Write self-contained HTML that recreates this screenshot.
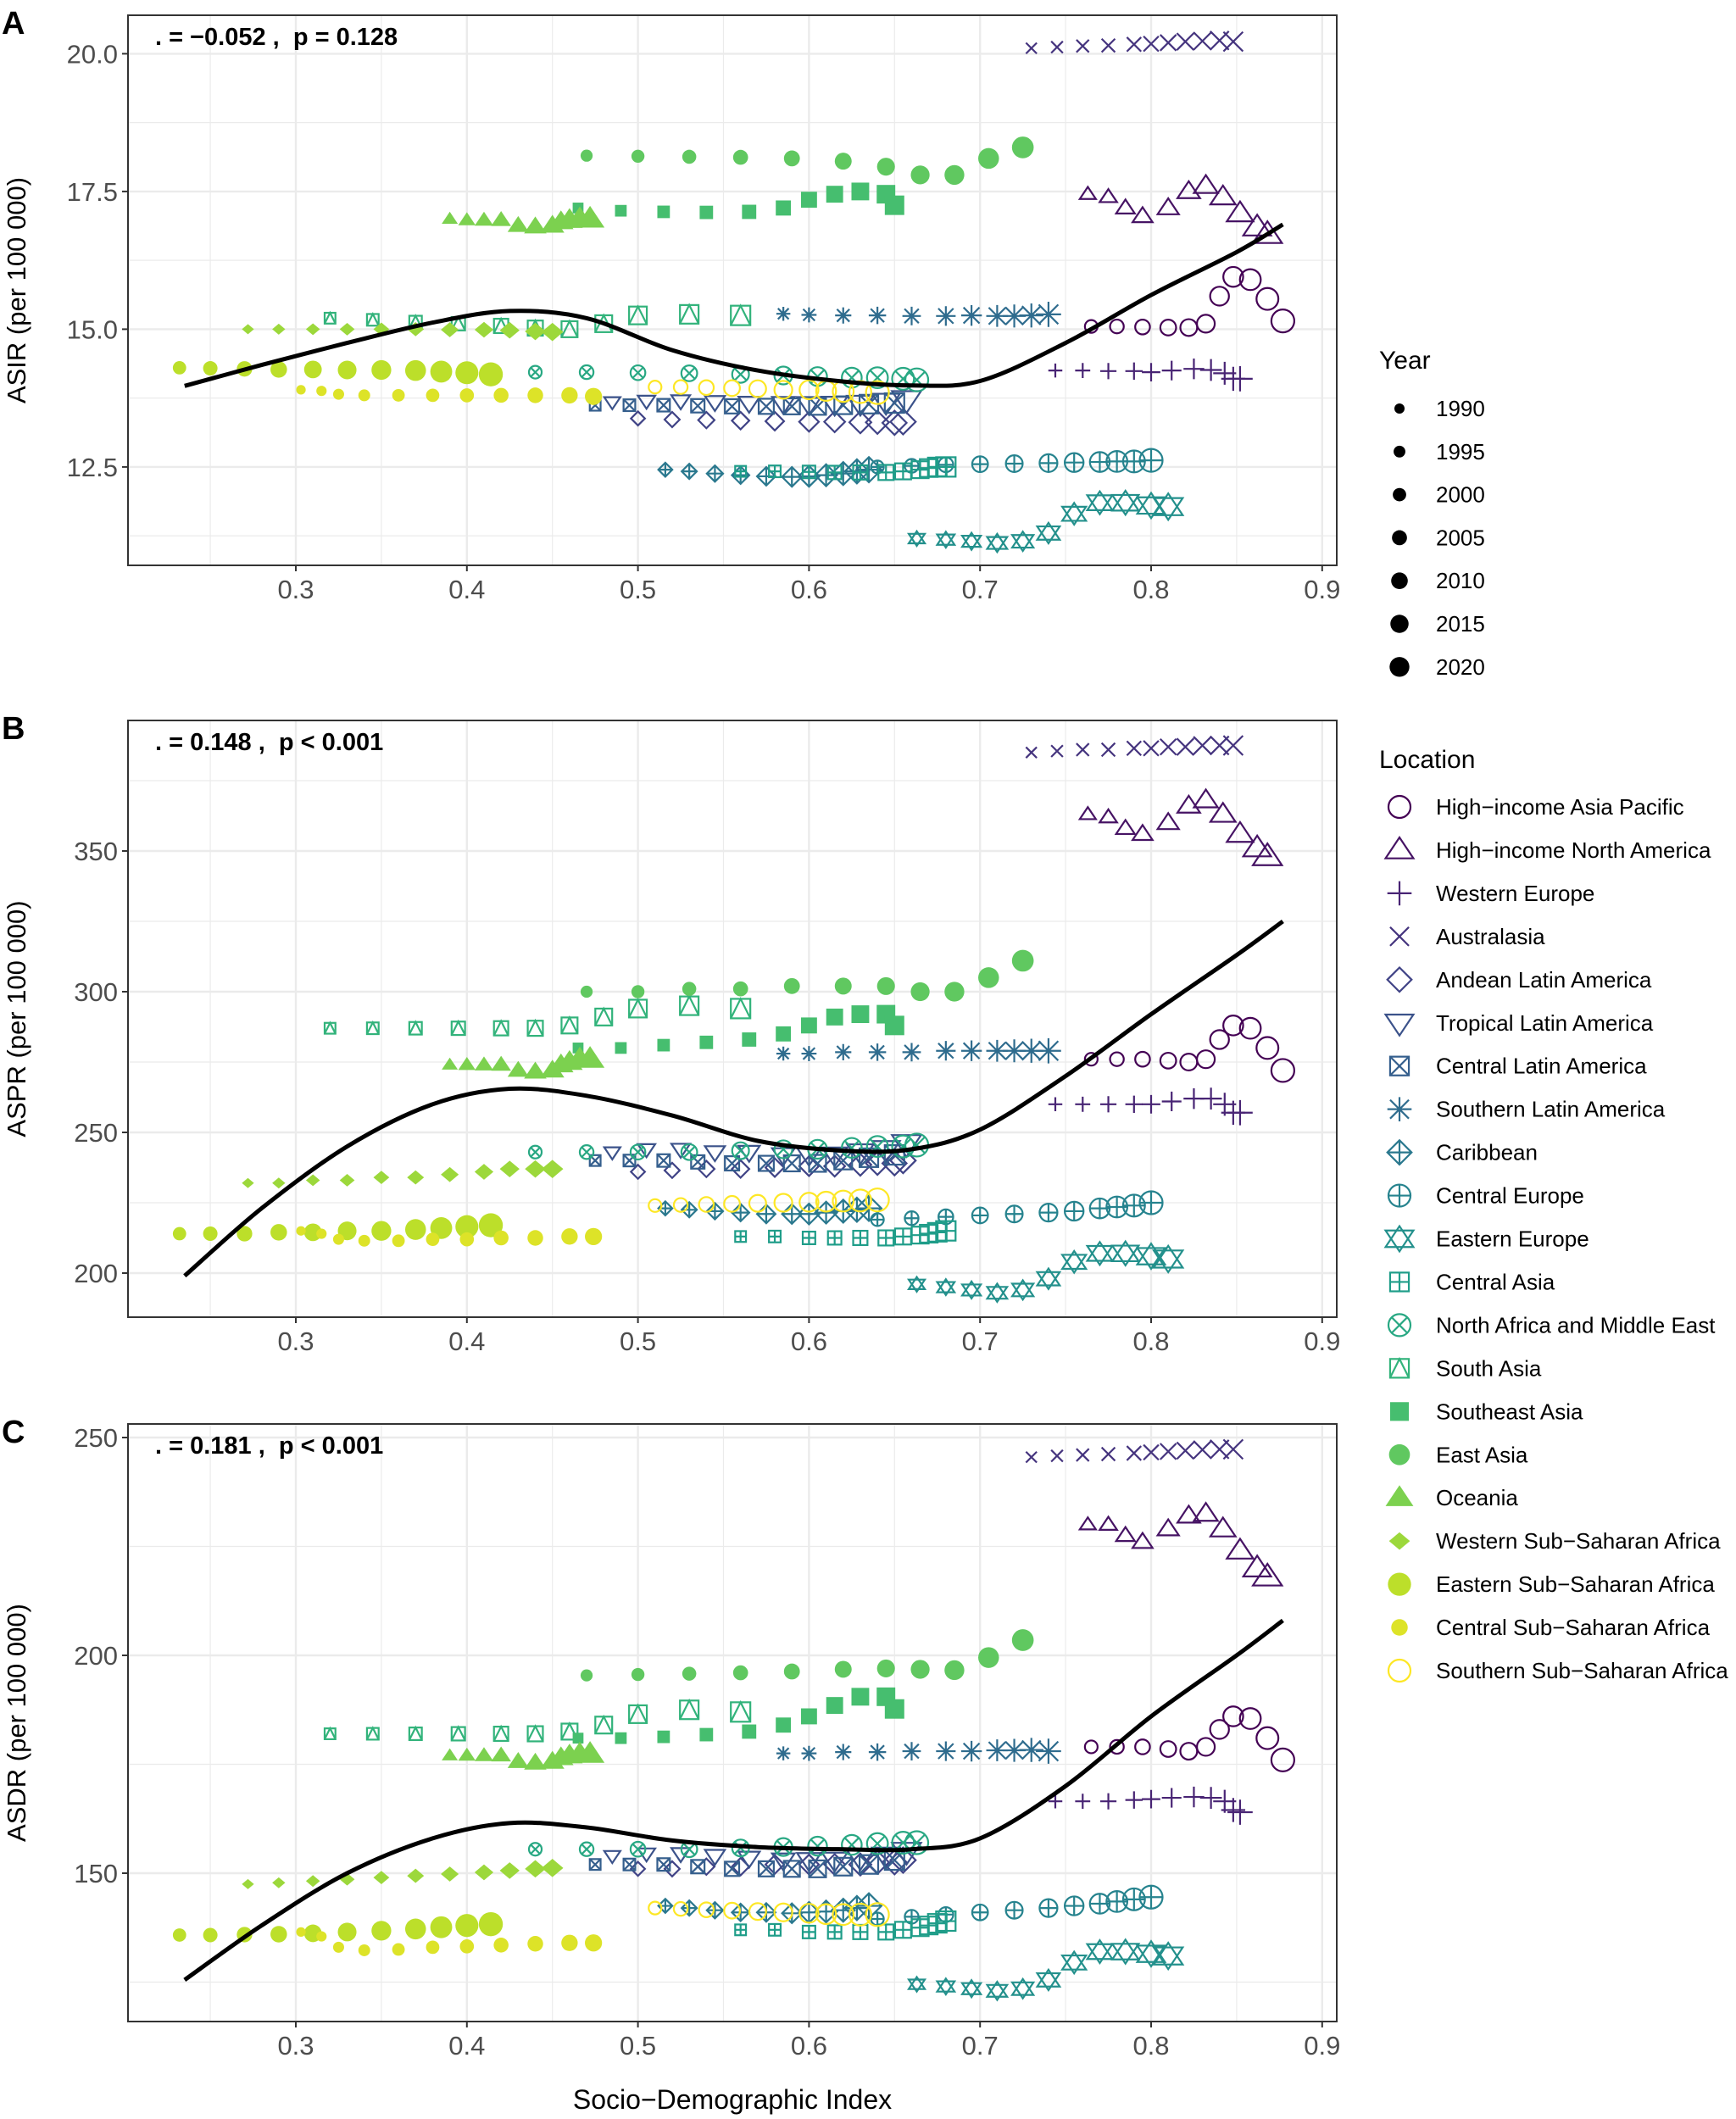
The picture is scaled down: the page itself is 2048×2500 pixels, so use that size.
<!DOCTYPE html>
<html><head><meta charset="utf-8"><style>
html,body{margin:0;padding:0;background:#fff;}
svg{display:block;font-family:"Liberation Sans",Arial,sans-serif;}
.pre{white-space:pre;}
</style></head><body>
<svg id="chart" width="2048" height="2500" viewBox="0 0 2048 2500" xmlns="http://www.w3.org/2000/svg">
<g id="panels"></g>
<g id="legend"></g>
<text x="864" y="2488" font-size="32" text-anchor="middle" fill="#000">Socio−Demographic Index</text>
</svg>
<script>
const regions = ["High−income Asia Pacific","High−income North America","Western Europe","Australasia","Andean Latin America","Tropical Latin America","Central Latin America","Southern Latin America","Caribbean","Central Europe","Eastern Europe","Central Asia","North Africa and Middle East","South Asia","Southeast Asia","East Asia","Oceania","Western Sub−Saharan Africa","Eastern Sub−Saharan Africa","Central Sub−Saharan Africa","Southern Sub−Saharan Africa"];
const shapes = ["circle","triangle","plus","cross","diamond","invtri","squarex","asterisk","diamondplus","circleplus","star","squareplus","circlex","squaretri","fsquare","fcircle","ftriangle","fdiamond","fcircleL","fcircleS","circle"];
const years = [1990,1993,1996,1999,2002,2005,2008,2011,2014,2017,2020];
const legendYears = [1990,1995,2000,2005,2010,2015,2020];

const sdi_hiap=[0.765,0.78,0.795,0.81,0.822,0.832,0.84,0.848,0.858,0.868,0.877];
const sdi_hina=[0.763,0.775,0.785,0.795,0.81,0.822,0.832,0.842,0.852,0.862,0.868];
const sdi_we=[0.744,0.76,0.775,0.79,0.8,0.812,0.825,0.835,0.843,0.848,0.852];
const sdi_aus=[0.73,0.745,0.76,0.775,0.79,0.8,0.81,0.82,0.83,0.84,0.848];
const sdi_and=[0.5,0.52,0.54,0.56,0.58,0.6,0.615,0.63,0.64,0.65,0.655];
const sdi_tla=[0.485,0.505,0.525,0.545,0.565,0.585,0.6,0.615,0.63,0.645,0.657];
const sdi_cla=[0.475,0.495,0.515,0.535,0.555,0.575,0.59,0.605,0.62,0.635,0.65];
const sdi_sla=[0.585,0.6,0.62,0.64,0.66,0.68,0.695,0.71,0.72,0.73,0.74];
const sdi_car=[0.516,0.53,0.545,0.56,0.575,0.59,0.6,0.61,0.62,0.628,0.635];
const sdi_ceu=[0.64,0.66,0.68,0.7,0.72,0.74,0.755,0.77,0.78,0.79,0.8];
const sdi_eeu=[0.663,0.68,0.695,0.71,0.725,0.74,0.755,0.77,0.785,0.8,0.81];
const sdi_cas=[0.56,0.58,0.6,0.615,0.63,0.645,0.655,0.665,0.67,0.675,0.68];
const sdi_name=[0.44,0.47,0.5,0.53,0.56,0.585,0.605,0.625,0.64,0.655,0.663];
const sdi_sas=[0.32,0.345,0.37,0.395,0.42,0.44,0.46,0.48,0.5,0.53,0.56];
const sdi_sea=[0.465,0.49,0.515,0.54,0.565,0.585,0.6,0.615,0.63,0.645,0.65];
const sdi_eas=[0.47,0.5,0.53,0.56,0.59,0.62,0.645,0.665,0.685,0.705,0.725];
const sdi_oce=[0.39,0.4,0.41,0.42,0.43,0.44,0.45,0.455,0.46,0.466,0.472];
const sdi_wssa=[0.272,0.29,0.31,0.33,0.35,0.37,0.39,0.41,0.425,0.44,0.45];
const sdi_essa=[0.232,0.25,0.27,0.29,0.31,0.33,0.35,0.37,0.385,0.4,0.414];
const sdi_cssa=[0.303,0.315,0.325,0.34,0.36,0.38,0.4,0.42,0.44,0.46,0.474];
const sdi_sssa=[0.51,0.525,0.54,0.555,0.57,0.585,0.6,0.61,0.62,0.63,0.64];

const asir_hiap=[15.05,15.05,15.04,15.03,15.03,15.1,15.6,15.95,15.9,15.55,15.15];
const asir_hina=[17.45,17.4,17.2,17.05,17.2,17.5,17.6,17.4,17.1,16.85,16.72];
const asir_we=[14.25,14.25,14.24,14.24,14.22,14.25,14.28,14.26,14.2,14.1,14.1];
const asir_aus=[20.1,20.12,20.14,20.15,20.17,20.18,20.2,20.22,20.23,20.24,20.22];
const asir_and=[13.38,13.36,13.35,13.34,13.33,13.32,13.32,13.31,13.31,13.3,13.32];
const asir_tla=[13.68,13.7,13.7,13.68,13.66,13.65,13.64,13.64,13.65,13.68,13.72];
const asir_cla=[13.62,13.62,13.62,13.61,13.6,13.6,13.6,13.6,13.62,13.64,13.66];
const asir_sla=[15.28,15.26,15.25,15.25,15.24,15.24,15.25,15.24,15.24,15.25,15.27];
const asir_car=[12.45,12.42,12.38,12.35,12.33,12.32,12.33,12.35,12.38,12.42,12.45];
const asir_ceu=[12.5,12.52,12.54,12.55,12.56,12.57,12.58,12.59,12.6,12.6,12.62];
const asir_eeu=[11.2,11.18,11.15,11.12,11.15,11.3,11.65,11.85,11.85,11.8,11.78];
const asir_cas=[12.42,12.42,12.41,12.4,12.4,12.4,12.42,12.45,12.48,12.5,12.5];
const asir_name=[14.22,14.22,14.21,14.2,14.18,14.16,14.14,14.12,14.12,14.1,14.08];
const asir_sas=[15.2,15.17,15.13,15.1,15.06,15.02,15.0,15.1,15.25,15.27,15.25];
const asir_sea=[17.2,17.15,17.13,17.12,17.13,17.2,17.35,17.45,17.5,17.45,17.25];
const asir_eas=[18.15,18.14,18.13,18.12,18.1,18.05,17.95,17.8,17.8,18.1,18.3];
const asir_oce=[17.0,16.98,16.98,16.98,16.88,16.86,16.88,16.95,16.98,17.0,17.0];
const asir_wssa=[15.0,15.0,15.0,15.0,15.0,15.0,14.99,14.99,14.98,14.96,14.95];
const asir_essa=[14.3,14.29,14.28,14.27,14.27,14.26,14.26,14.25,14.23,14.21,14.18];
const asir_cssa=[13.9,13.88,13.82,13.8,13.8,13.8,13.8,13.8,13.8,13.8,13.78];
const asir_sssa=[13.95,13.95,13.94,13.93,13.92,13.9,13.9,13.88,13.87,13.86,13.85];

const aspr_hiap=[276,276,276,275.5,275,276,283,288,287,280,272];
const aspr_hina=[363,362,358,356,360,366,368,363,356,351,348];
const aspr_we=[260,260,260,260,260,261,262,262,260,257,257];
const aspr_aus=[385,385.5,386,386,386.5,386.5,387,387,387.5,387.5,387.5];
const aspr_and=[236,236.5,237,237,237.5,238,238,238.5,239,239,240];
const aspr_tla=[243,244,244,243,243,242,242,242,243,244,246];
const aspr_cla=[240,240,240,239.5,239,239,239,239,240,241,242];
const aspr_sla=[278,278,278.5,278.5,278.5,279,279,279,279,279,279];
const aspr_car=[223,222.5,222,221.5,221,221,221,221.5,222,222.5,223];
const aspr_ceu=[219,219.5,220,220.5,221,221.5,222,223,223.5,224,225];
const aspr_eeu=[196,195,194,193,194,198,204,207,207,206,205];
const aspr_cas=[213,213,212.5,212.5,212.5,212.5,213,213.5,214,214.5,215];
const aspr_name=[243,243,243,243,243.5,244,244,244.5,245,245,245.5];
const aspr_sas=[287,287,287,287,287,287,288,291,294,295,294];
const aspr_sea=[280,280,281,282,283,285,288,291,292,292,288];
const aspr_eas=[300,300,301,301,302,302,302,300,300,305,311];
const aspr_oce=[274,274,274,274,272,271.5,272,274,275,276,276];
const aspr_wssa=[232,232,233,233,234,234,235,236,237,237,237];
const aspr_essa=[214,214,214,214.5,214.5,215,215,215.5,216,216.5,217];
const aspr_cssa=[215,214,212,211.5,211.5,212,212,212.5,212.5,213,213];
const aspr_sssa=[224,224.2,224.4,224.6,224.8,225,225.2,225.4,225.6,225.8,226];

const asdr_hiap=[179,179,179,178.5,178,179,183,186,185.5,181,176];
const asdr_hina=[230,230,227.5,226,229,232,232.5,229,224,220,218];
const asdr_we=[166.5,166.5,166.5,166.8,167,167.3,167.5,167.3,166.5,164.5,164];
const asdr_aus=[245.5,245.8,246,246.2,246.4,246.6,246.8,247,247.2,247.3,247.3];
const asdr_and=[151,151,151.5,151.5,152,152,152,152,152.5,152.5,153];
const asdr_tla=[154,154.5,154.5,154,153.5,153,153,153,153.5,154,155];
const asdr_cla=[152,152,152,151.5,151,151,151,151,151.5,152,153];
const asdr_sla=[177.5,177.5,177.8,177.8,178,178,178,178.2,178.2,178.3,178];
const asdr_car=[142.5,142,141.5,141,141,140.8,141,141.2,141.5,142,142.5];
const asdr_ceu=[139.5,140,140.5,141,141.5,142,142.5,143,143.5,144,144.5];
const asdr_eeu=[124.5,124,123.5,123,123.5,125.5,129.5,132,132,131.5,131];
const asdr_cas=[137,137,136.5,136.5,136.5,136.5,137,137.5,138,138.5,139];
const asdr_name=[155.5,155.5,155.5,155.5,155.8,156,156.2,156.5,156.8,157,157];
const asdr_sas=[182,182,182,182,182,182,182.5,184,186.5,187.5,187];
const asdr_sea=[181,181,181.3,181.8,182.5,184,186,188.5,190.5,190.5,187.7];
const asdr_eas=[195.4,195.6,195.8,196,196.3,196.8,197,196.8,196.6,199.5,203.5];
const asdr_oce=[177,177,177,177,175.6,175.3,175.6,176.5,177,177.3,177.3];
const asdr_wssa=[147.5,147.8,148.2,148.6,149,149.4,149.8,150.2,150.6,151,151.2];
const asdr_essa=[135.8,135.8,135.9,136,136.2,136.5,136.8,137.2,137.6,138,138.3];
const asdr_cssa=[136.5,135.5,133,132.3,132.5,133,133.2,133.5,133.8,134,134];
const asdr_sssa=[142,141.8,141.6,141.4,141.2,141,140.8,140.6,140.5,140.5,140.5];

const smooth_x=[0.235,0.28,0.33,0.38,0.425,0.47,0.52,0.57,0.62,0.66,0.7,0.75,0.8,0.85,0.877];
const smooth_asir=[13.97,14.35,14.75,15.12,15.33,15.2,14.62,14.25,14.05,13.98,14.06,14.75,15.62,16.4,16.9];
const smooth_aspr=[199,223,245,260,265.5,263,256,247,243.5,244,251,270,292,313,325];
const smooth_asdr=[125.5,138,150,158,161.5,160.5,157.5,156,155.5,155.5,158,170,186,200,208];

const xTicks=[0.3,0.4,0.5,0.6,0.7,0.8,0.9];
const ticksA=[12.5,15.0,17.5,20.0];
const ticksB=[200,250,300,350];
const ticksC=[150,200,250];
const statA=". = −0.052 ,  p = 0.128";
const statB=". = 0.148 ,  p < 0.001";
const statC=". = 0.181 ,  p < 0.001";

const SDI=[sdi_hiap,sdi_hina,sdi_we,sdi_aus,sdi_and,sdi_tla,sdi_cla,sdi_sla,sdi_car,sdi_ceu,sdi_eeu,sdi_cas,sdi_name,sdi_sas,sdi_sea,sdi_eas,sdi_oce,sdi_wssa,sdi_essa,sdi_cssa,sdi_sssa];
const VA=[asir_hiap,asir_hina,asir_we,asir_aus,asir_and,asir_tla,asir_cla,asir_sla,asir_car,asir_ceu,asir_eeu,asir_cas,asir_name,asir_sas,asir_sea,asir_eas,asir_oce,asir_wssa,asir_essa,asir_cssa,asir_sssa];
const VB=[aspr_hiap,aspr_hina,aspr_we,aspr_aus,aspr_and,aspr_tla,aspr_cla,aspr_sla,aspr_car,aspr_ceu,aspr_eeu,aspr_cas,aspr_name,aspr_sas,aspr_sea,aspr_eas,aspr_oce,aspr_wssa,aspr_essa,aspr_cssa,aspr_sssa];
const VC=[asdr_hiap,asdr_hina,asdr_we,asdr_aus,asdr_and,asdr_tla,asdr_cla,asdr_sla,asdr_car,asdr_ceu,asdr_eeu,asdr_cas,asdr_name,asdr_sas,asdr_sea,asdr_eas,asdr_oce,asdr_wssa,asdr_essa,asdr_cssa,asdr_sssa];

const NS="http://www.w3.org/2000/svg";
function mk(tag,attrs,parent){const e=document.createElementNS(NS,tag);for(const k in attrs)e.setAttribute(k,attrs[k]);if(parent)parent.appendChild(e);return e;}
const vir=[[68,1,84],[72,40,120],[62,74,137],[49,104,142],[38,130,142],[31,158,137],[53,183,121],[110,206,88],[181,222,43],[253,231,37]];
function viridis(t){const p=t*(vir.length-1);const i=Math.min(Math.floor(p),vir.length-2);const f=p-i;const c=vir[i].map((v,k)=>Math.round(v+(vir[i+1][k]-v)*f));return `rgb(${c[0]},${c[1]},${c[2]})`;}
const colors=regions.map((_,i)=>viridis(i/20));

const xScale=v=>349+(v-0.3)*2018;
const panels=[
 {id:"a",letter:"A",top:18,bottom:667,y:v=>63.4+(20-v)*65.0,ticks:ticksA,minor:[11.25,13.75,16.25,18.75],vals:VA,smooth:smooth_asir,stat:statA,title:"ASIR (per 100 000)",fmt:v=>v.toFixed(1)},
 {id:"b",letter:"B",top:850,bottom:1554,y:v=>1004+(350-v)*3.32,ticks:ticksB,minor:[225,275,325,375],vals:VB,smooth:smooth_aspr,stat:statB,title:"ASPR (per 100 000)",fmt:v=>String(v)},
 {id:"c",letter:"C",top:1680,bottom:2385,y:v=>1696+(250-v)*5.14,ticks:ticksC,minor:[125,175,225],vals:VC,smooth:smooth_asdr,stat:statC,title:"ASDR (per 100 000)",fmt:v=>String(v)}
];
const L=151,R=1577;

function marker(g,shape,cx,cy,r,col){
 const sw=2.2;const o={fill:"none",stroke:col,"stroke-width":sw};
 const tri=(s)=>{const h=r*1.15;return s>0?`${cx},${cy-h} ${cx-h*1.1},${cy+h*0.65} ${cx+h*1.1},${cy+h*0.65}`:`${cx},${cy+h} ${cx-h*1.1},${cy-h*0.65} ${cx+h*1.1},${cy-h*0.65}`;};
 const dia=`${cx},${cy-r*1.1} ${cx+r*1.1},${cy} ${cx},${cy+r*1.1} ${cx-r*1.1},${cy}`;
 const s=r*0.85;
 switch(shape){
 case "circle":mk("circle",Object.assign({cx,cy,r},o),g);break;
 case "triangle":mk("polygon",Object.assign({points:tri(1)},o),g);break;
 case "invtri":mk("polygon",Object.assign({points:tri(-1)},o),g);break;
 case "plus":mk("path",Object.assign({d:`M${cx-r*1.1},${cy}H${cx+r*1.1}M${cx},${cy-r*1.1}V${cy+r*1.1}`},o),g);break;
 case "cross":mk("path",Object.assign({d:`M${cx-s},${cy-s}L${cx+s},${cy+s}M${cx-s},${cy+s}L${cx+s},${cy-s}`},o),g);break;
 case "asterisk":mk("path",Object.assign({d:`M${cx-r*1.1},${cy}H${cx+r*1.1}M${cx},${cy-r*1.1}V${cy+r*1.1}M${cx-s},${cy-s}L${cx+s},${cy+s}M${cx-s},${cy+s}L${cx+s},${cy-s}`},o),g);break;
 case "diamond":mk("polygon",Object.assign({points:dia},o),g);break;
 case "diamondplus":mk("polygon",Object.assign({points:dia},o),g);mk("path",Object.assign({d:`M${cx-r*1.1},${cy}H${cx+r*1.1}M${cx},${cy-r*1.1}V${cy+r*1.1}`},o),g);break;
 case "squarex":mk("rect",Object.assign({x:cx-s,y:cy-s,width:2*s,height:2*s},o),g);mk("path",Object.assign({d:`M${cx-s},${cy-s}L${cx+s},${cy+s}M${cx-s},${cy+s}L${cx+s},${cy-s}`},o),g);break;
 case "squareplus":mk("rect",Object.assign({x:cx-s,y:cy-s,width:2*s,height:2*s},o),g);mk("path",Object.assign({d:`M${cx-s},${cy}H${cx+s}M${cx},${cy-s}V${cy+s}`},o),g);break;
 case "squaretri":mk("rect",Object.assign({x:cx-s,y:cy-s,width:2*s,height:2*s},o),g);mk("path",Object.assign({d:`M${cx-s},${cy+s}L${cx},${cy-s}L${cx+s},${cy+s}`},o),g);break;
 case "circleplus":mk("circle",Object.assign({cx,cy,r},o),g);mk("path",Object.assign({d:`M${cx-r},${cy}H${cx+r}M${cx},${cy-r}V${cy+r}`},o),g);break;
 case "circlex":{const q=r*0.707;mk("circle",Object.assign({cx,cy,r},o),g);mk("path",Object.assign({d:`M${cx-q},${cy-q}L${cx+q},${cy+q}M${cx-q},${cy+q}L${cx+q},${cy-q}`},o),g);break;}
 case "star":mk("polygon",Object.assign({points:tri(1)},o),g);mk("polygon",Object.assign({points:tri(-1)},o),g);break;
 case "fsquare":mk("rect",{x:cx-s,y:cy-s,width:2*s,height:2*s,fill:col},g);break;
 case "fcircle":mk("circle",{cx,cy,r:r*0.95,fill:col},g);break;
 case "fcircleL":mk("circle",{cx,cy,r:r*1.05,fill:col},g);break;
 case "fcircleS":mk("circle",{cx,cy,r:r*0.75,fill:col},g);break;
 case "ftriangle":mk("polygon",{points:tri(1),fill:col},g);break;
 case "fdiamond":mk("polygon",{points:`${cx},${cy-r*0.8} ${cx+r*0.95},${cy} ${cx},${cy+r*0.8} ${cx-r*0.95},${cy}`,fill:col},g);break;
 }
}
function smoothPath(P){
 let d=`M${P[0][0].toFixed(1)},${P[0][1].toFixed(1)}`;
 for(let i=0;i<P.length-1;i++){
  const p0=P[Math.max(i-1,0)],p1=P[i],p2=P[i+1],p3=P[Math.min(i+2,P.length-1)];
  const c1=[p1[0]+(p2[0]-p0[0])/6,p1[1]+(p2[1]-p0[1])/6];
  const c2=[p2[0]-(p3[0]-p1[0])/6,p2[1]-(p3[1]-p1[1])/6];
  d+=`C${c1[0].toFixed(1)},${c1[1].toFixed(1)} ${c2[0].toFixed(1)},${c2[1].toFixed(1)} ${p2[0].toFixed(1)},${p2[1].toFixed(1)}`;
 }
 return d;
}

const root=document.getElementById("panels");
panels.forEach(p=>{
 const g=mk("g",{},root);
 
 
 mk("rect",{x:L,y:p.top,width:R-L,height:p.bottom-p.top,fill:"#fff"},g);
 const grid=mk("g",{},g);
 
 
 [0.25,0.35,0.45,0.55,0.65,0.75,0.85].forEach(v=>mk("line",{x1:xScale(v),x2:xScale(v),y1:p.top,y2:p.bottom,stroke:"#ebebeb","stroke-width":1.2},grid));
 p.minor.forEach(v=>{const y=p.y(v);if(y>p.top&&y<p.bottom)mk("line",{x1:L,x2:R,y1:y,y2:y,stroke:"#ebebeb","stroke-width":1.2},grid);});
 xTicks.forEach(v=>mk("line",{x1:xScale(v),x2:xScale(v),y1:p.top,y2:p.bottom,stroke:"#ebebeb","stroke-width":2.4},grid));
 p.ticks.forEach(v=>mk("line",{x1:L,x2:R,y1:p.y(v),y2:p.y(v),stroke:"#ebebeb","stroke-width":2.4},grid));
 const pts=mk("g",{},g);
 
 
 regions.forEach((rn,ri)=>{
  const sg=mk("g",{},pts);
  
  
  SDI[ri].forEach((x,k)=>{
   const r=7.5+k*0.6;
   const mg=mk("g",{},sg);
   
   
   marker(mg,shapes[ri],xScale(x),p.y(p.vals[ri][k]),r,colors[ri]);
  });
 });
 const P=smooth_x.map((x,i)=>[xScale(x),p.y(p.smooth[i])]);
 const sm=mk("path",{d:smoothPath(P),fill:"none",stroke:"#000","stroke-width":5,"stroke-linejoin":"round"},g);
 
 
 const fr=mk("rect",{x:L,y:p.top,width:R-L,height:p.bottom-p.top,fill:"none",stroke:"#333","stroke-width":2},g);
 
 
 p.ticks.forEach(v=>{
  const y=p.y(v);
  mk("line",{x1:L-7,x2:L,y1:y,y2:y,stroke:"#333","stroke-width":2},g);
  const t=mk("text",{x:L-12,y:y+11,"font-size":31,"text-anchor":"end",fill:"#4d4d4d"},g);
  
  
  t.textContent=p.fmt(v);
 });
 xTicks.forEach(v=>{
  const x=xScale(v);
  mk("line",{x1:x,x2:x,y1:p.bottom,y2:p.bottom+7,stroke:"#333","stroke-width":2},g);
  const t=mk("text",{x:x,y:p.bottom+39,"font-size":31,"text-anchor":"middle",fill:"#4d4d4d"},g);
  
  
  t.textContent=v.toFixed(1);
 });
 const st=mk("text",{x:183,y:p.top+35,"font-size":29,"font-weight":"bold",fill:"#000","class":"pre"},g);
 
 
 st.textContent=p.stat;
 const lt=mk("text",{x:2,y:p.top+22,"font-size":38,"font-weight":"bold",fill:"#000"},g);
 
 
 lt.textContent=p.letter;
 const cy=(p.top+p.bottom)/2;
 const yt=mk("text",{x:0,y:0,"font-size":31,"text-anchor":"middle",fill:"#000",transform:`translate(30,${cy}) rotate(-90)`},g);
 
 
 yt.textContent=p.title;
});

const lg=document.getElementById("legend");
const yt=mk("text",{x:1627,y:435,"font-size":30,fill:"#000"},lg);


yt.textContent="Year";
legendYears.forEach((yr,i)=>{
 const y=482+i*50.8;
 const c=mk("circle",{cx:1651,cy:y,r:6+i*0.95,fill:"#000"},lg);
 
 
 const t=mk("text",{x:1694,y:y+9,"font-size":26,fill:"#000"},lg);
 
 
 t.textContent=yr;
});
const lt2=mk("text",{x:1627,y:906,"font-size":30,fill:"#000"},lg);


lt2.textContent="Location";
regions.forEach((rn,i)=>{
 const y=952+i*50.95;
 const e=mk("g",{},lg);
 
 
 marker(e,shapes[i],1651,y,13,colors[i]);
 const t=mk("text",{x:1694,y:y+9,"font-size":26,fill:"#000"},e);
 t.textContent=rn;
});
</script>
</body></html>
